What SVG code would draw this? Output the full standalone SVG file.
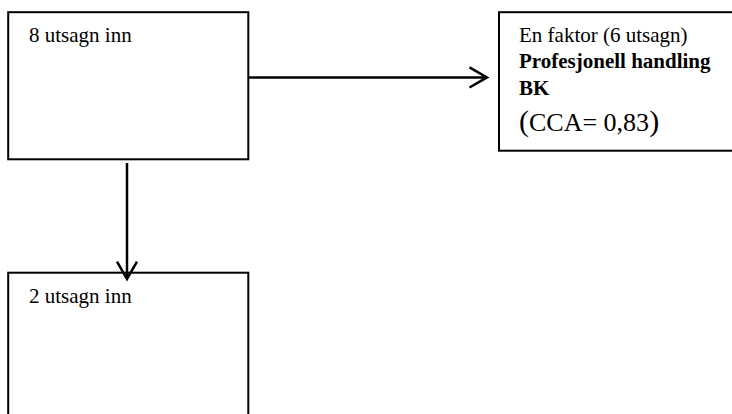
<svg xmlns="http://www.w3.org/2000/svg" width="732" height="414" viewBox="0 0 732 414">
  <defs>
    <style>
      .box { fill: #ffffff; stroke: #000000; stroke-width: 2; }
      .lbl { font-family: "Liberation Serif", "Times New Roman", serif; font-size: 21px; fill: #000000; }
      .bold { font-weight: bold; }
      .big { font-size: 26px; }
      .paren { font-size: 30px; }
      .link { fill: none; stroke: #000000; stroke-width: 2.5; }
      .head { fill: none; stroke: #000000; stroke-width: 2.5; stroke-linejoin: miter; }
    </style>
  </defs>
  <rect width="732" height="414" fill="#ffffff"/>

  <g id="node-in8">
    <rect class="box" x="8.2" y="12.2" width="240.1" height="147.1"/>
    <text class="lbl" x="29" y="41.7">8 utsagn inn</text>
  </g>

  <g id="node-factor">
    <rect class="box" x="499" y="12.2" width="245" height="138.5"/>
    <text class="lbl" x="519" y="42">En faktor (6 utsagn)</text>
    <text class="lbl bold" x="519" y="68">Profesjonell handling</text>
    <text class="lbl bold" x="519" y="95">BK</text>
    <text class="lbl big" x="519" y="130.5"><tspan class="paren">(</tspan>CCA= 0,83<tspan class="paren">)</tspan></text>
  </g>

  <g id="node-in2">
    <rect class="box" x="8.2" y="272.7" width="240.1" height="150"/>
    <text class="lbl" x="29" y="302.5">2 utsagn inn</text>
  </g>

  <g id="connectors">
    <line class="link" x1="248.3" y1="77.4" x2="486" y2="77.4"/>
    <polyline class="head" points="469.5,67.3 487,77.4 469.5,87.5"/>
    <line class="link" x1="127" y1="163" x2="127" y2="278"/>
    <polyline class="head" points="117,261.7 127,279 137,261.7"/>
  </g>
</svg>
